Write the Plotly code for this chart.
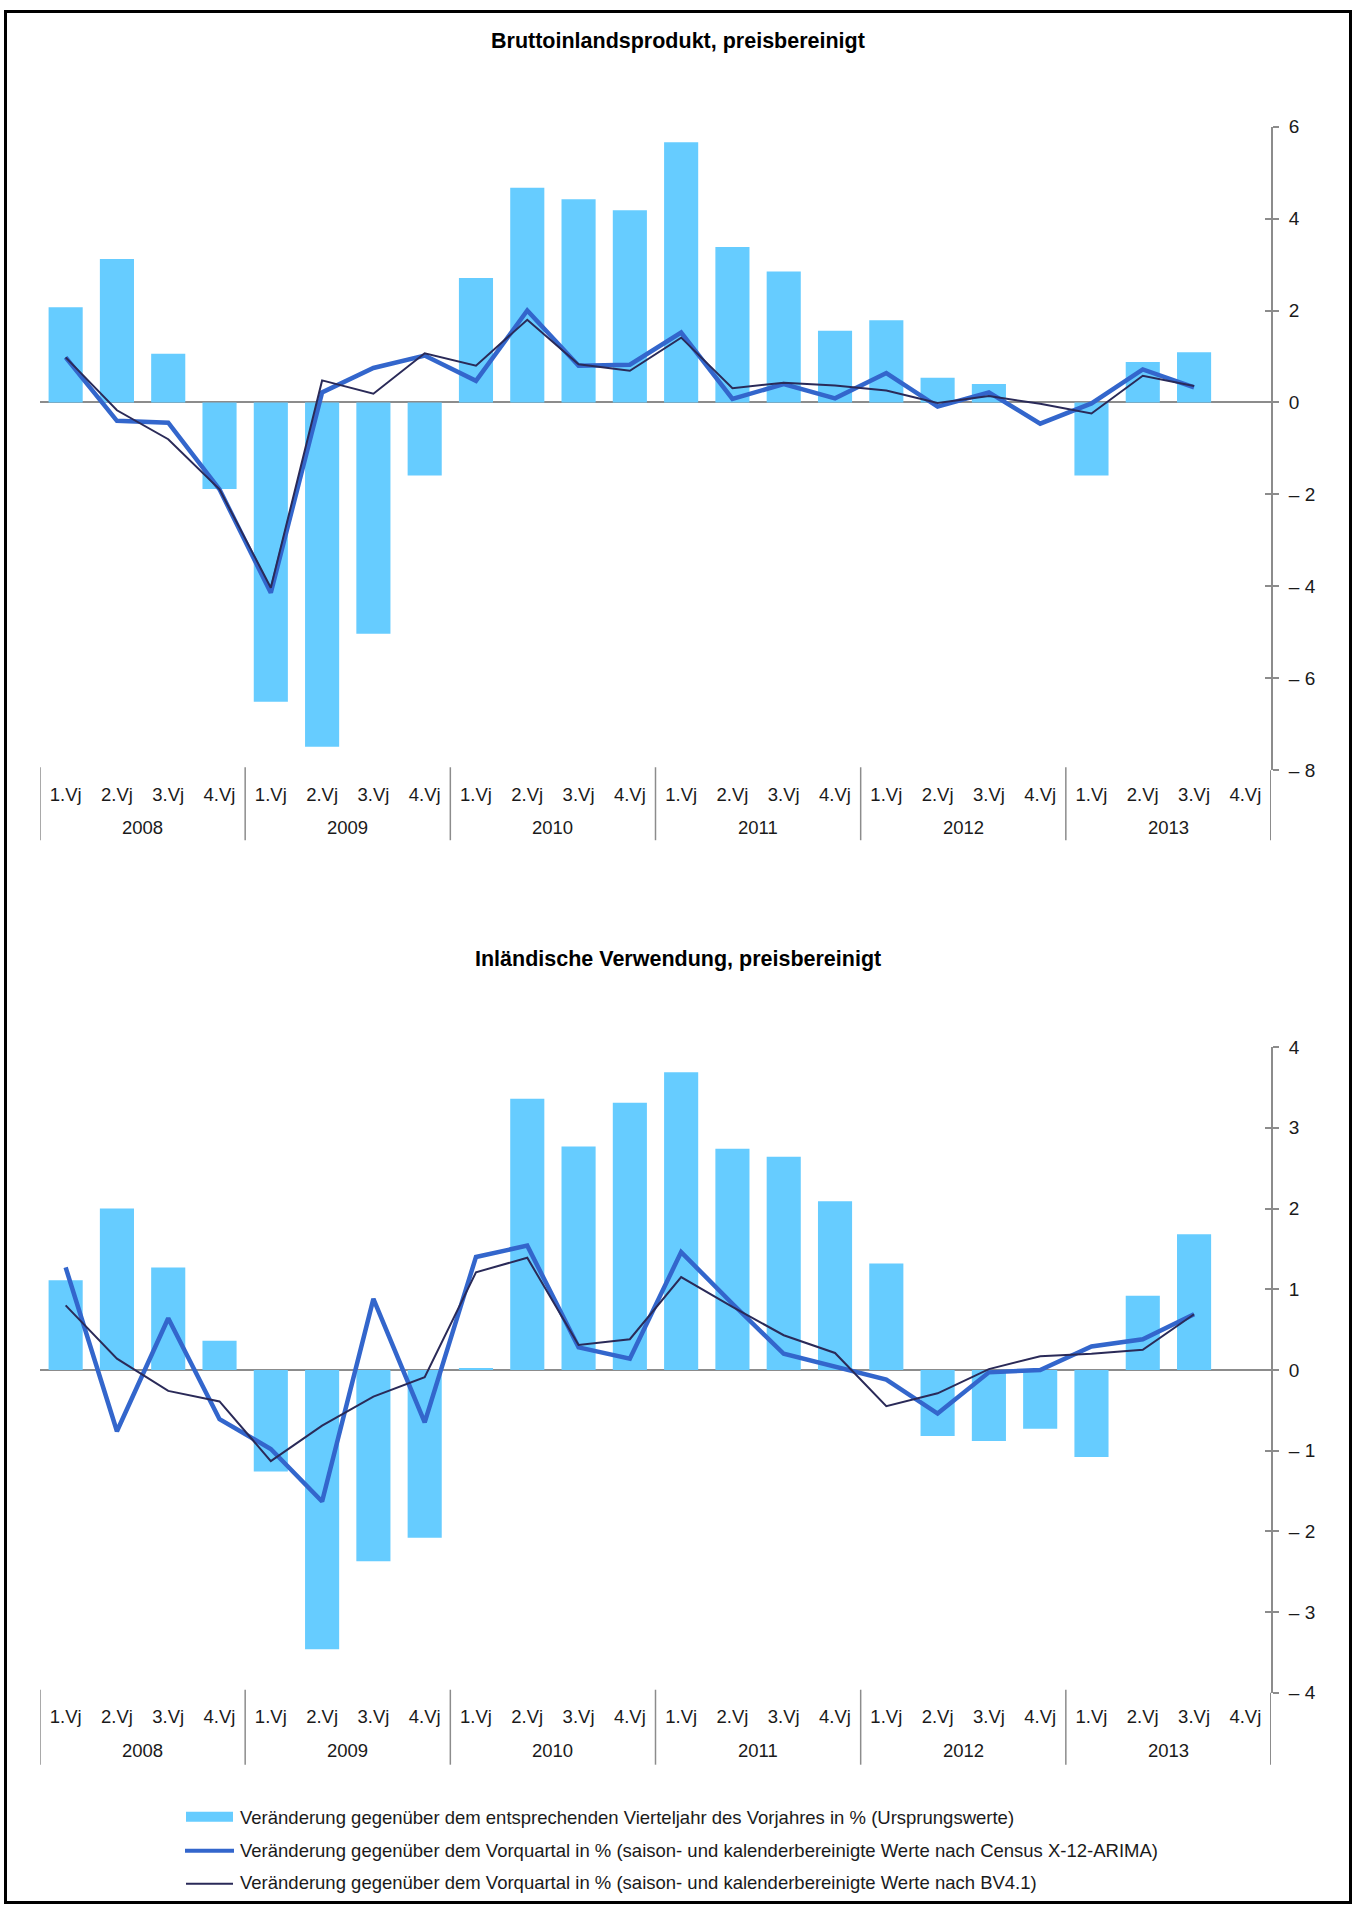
import plotly.graph_objects as go

W, H = 1355, 1915

years = ["2008", "2009", "2010", "2011", "2012", "2013"]
quarters = ["1.Vj", "2.Vj", "3.Vj", "4.Vj"]

# Bruttoinlandsprodukt, preisbereinigt
bip_yoy = [2.07, 3.12, 1.06, -1.88, -6.51, -7.49, -5.03, -1.59, 2.71, 4.67, 4.42, 4.18,
           5.66, 3.38, 2.85, 1.56, 1.79, 0.54, 0.40, 0.0, -1.59, 0.88, 1.09, None]
bip_x12 = [0.98, -0.40, -0.44, -1.89, -4.14, 0.22, 0.75, 1.02, 0.47, 2.00, 0.80, 0.82,
           1.52, 0.08, 0.40, 0.09, 0.64, -0.09, 0.22, -0.46, -0.02, 0.72, 0.33, None]
bip_bv41 = [0.98, -0.17, -0.80, -1.89, -4.03, 0.48, 0.19, 1.07, 0.80, 1.80, 0.83, 0.69,
            1.41, 0.31, 0.43, 0.37, 0.26, -0.01, 0.14, -0.03, -0.24, 0.58, 0.36, None]

# Inländische Verwendung, preisbereinigt
verw_yoy = [1.11, 2.00, 1.27, 0.36, -1.26, -3.46, -2.37, -2.08, 0.02, 3.36, 2.77, 3.31,
            3.69, 2.74, 2.64, 2.09, 1.32, -0.82, -0.88, -0.73, -1.08, 0.92, 1.68, None]
verw_x12 = [1.27, -0.76, 0.64, -0.61, -0.98, -1.63, 0.88, -0.65, 1.40, 1.54, 0.28, 0.14,
            1.46, 0.82, 0.20, 0.04, -0.12, -0.54, -0.03, 0.00, 0.29, 0.38, 0.69, None]
verw_bv41 = [0.80, 0.14, -0.26, -0.39, -1.13, -0.69, -0.33, -0.09, 1.21, 1.39, 0.31, 0.38,
             1.15, 0.78, 0.43, 0.21, -0.45, -0.29, 0.01, 0.17, 0.20, 0.25, 0.69, None]

titles = ["Bruttoinlandsprodukt, preisbereinigt", "Inländische Verwendung, preisbereinigt"]
legend_names = [
    "Veränderung gegenüber dem entsprechenden Vierteljahr des Vorjahres in % (Ursprungswerte)",
    "Veränderung gegenüber dem Vorquartal in % (saison- und kalenderbereinigte Werte nach Census X-12-ARIMA)",
    "Veränderung gegenüber dem Vorquartal in % (saison- und kalenderbereinigte Werte nach BV4.1)",
]
top_ticks = [-8, -6, -4, -2, 0, 2, 4, 6]
bot_ticks = [-4, -3, -2, -1, 0, 1, 2, 3, 4]


def tick_text(v):
    return "– " + str(abs(v)) if v < 0 else str(v)


n = len(years) * len(quarters)
xpos = list(range(n))
xlabels = [q for _ in years for q in quarters]
year_centers = [i * len(quarters) + (len(quarters) - 1) / 2 for i in range(len(years))]
dividers = [i * len(quarters) - 0.5 for i in range(len(years) + 1)]

BAR = "#66CCFF"
BLUE = "#3366CC"
NAVY = "#2A2A58"
GRAY = "#8C8C8C"
TXT = "#1a1a1a"
FONT = "Liberation Sans, Arial, sans-serif"

fig = go.Figure()

for i, (yoy, x12, bv) in enumerate([(bip_yoy, bip_x12, bip_bv41), (verw_yoy, verw_x12, verw_bv41)]):
    xa = "x" if i == 0 else "x2"
    ya = "y" if i == 0 else "y2"
    fig.add_trace(go.Bar(x=xpos, y=yoy, marker=dict(color=BAR, line=dict(width=0)),
                         name=legend_names[0], showlegend=False, xaxis=xa, yaxis=ya))
    fig.add_trace(go.Scatter(x=xpos, y=x12, mode="lines", line=dict(color=BLUE, width=4.5),
                             name=legend_names[1], showlegend=False, xaxis=xa, yaxis=ya))
    fig.add_trace(go.Scatter(x=xpos, y=bv, mode="lines", line=dict(color=NAVY, width=2),
                             name=legend_names[2], showlegend=False, xaxis=xa, yaxis=ya))


def fy(r):
    # target pixel row -> figure pixel row (compensates the capture's vertical mapping)
    return min(max((r - 9.3) / 0.9896, 0.0), H)


def py(r):
    return 1 - fy(r) / H


def pxx(px):
    return px / W


xdom = [pxx(40), pxx(1271)]
top_dom = [py(770), py(126)]
bot_dom = [py(1693), py(1047)]

xcommon = dict(domain=xdom, range=[-0.5, n - 0.5], showgrid=False, zeroline=False, showline=False,
               ticks="", tickvals=xpos, ticktext=xlabels, ticklabelstandoff=11,
               tickfont=dict(family=FONT, size=18.5, color=TXT))
ycommon = dict(side="right", showgrid=False, showline=True, linecolor=GRAY, linewidth=2,
               ticks="outside", ticklen=6, tickwidth=2, tickcolor=GRAY, ticklabelstandoff=6,
               zeroline=True, zerolinecolor=GRAY, zerolinewidth=2,
               tickfont=dict(family=FONT, size=19, color=TXT))

fig.update_layout(
    width=W, height=H, margin=dict(l=0, r=0, t=0, b=0),
    paper_bgcolor="white", plot_bgcolor="white",
    bargap=0.335, showlegend=False,
    font=dict(family=FONT, size=18, color=TXT),
    xaxis=dict(xcommon, anchor="y"),
    yaxis=dict(ycommon, domain=top_dom, anchor="x", range=[-8, 6],
               tickvals=top_ticks, ticktext=[tick_text(v) for v in top_ticks]),
    xaxis2=dict(xcommon, anchor="y2"),
    yaxis2=dict(ycommon, domain=bot_dom, anchor="x2", range=[-4, 4],
                tickvals=bot_ticks, ticktext=[tick_text(v) for v in bot_ticks]),
    yaxis3=dict(domain=top_dom, anchor="x", overlaying="y", side="right", range=[-8, 6],
                tickvals=top_ticks, showticklabels=False, ticks="inside", ticklen=6, tickwidth=2,
                tickcolor=GRAY, showgrid=False, zeroline=False, showline=False),
    yaxis4=dict(domain=bot_dom, anchor="x2", overlaying="y2", side="right", range=[-4, 4],
                tickvals=bot_ticks, showticklabels=False, ticks="inside", ticklen=6, tickwidth=2,
                tickcolor=GRAY, showgrid=False, zeroline=False, showline=False),
)

# invisible traces so the overlay tick axes are drawn
fig.add_trace(go.Scatter(x=xpos, y=[None] * n, xaxis="x", yaxis="y3", showlegend=False, hoverinfo="skip"))
fig.add_trace(go.Scatter(x=xpos, y=[None] * n, xaxis="x2", yaxis="y4", showlegend=False, hoverinfo="skip"))

# year labels and group dividers under each chart
for xa, axis_bottom, year_y, div_bottom in [("x", 767, 827, 840), ("x2", 1690, 1751, 1765)]:
    for yr, xc in zip(years, year_centers):
        fig.add_annotation(text=yr, x=xc, y=py(year_y), xref=xa, yref="paper", showarrow=False,
                           xanchor="center", yanchor="middle",
                           font=dict(family=FONT, size=18.5, color=TXT))
    for k, xd in enumerate(dividers):
        last = k == len(dividers) - 1
        fig.add_shape(type="line", xref=xa, yref="paper", x0=xd, x1=xd,
                      y0=py(axis_bottom if not last else axis_bottom + 3), y1=py(div_bottom),
                      line=dict(color=GRAY, width=2 if last else 1.5))

# titles
for t, ypx in zip(titles, [40, 959]):
    fig.add_annotation(text="<b>" + t + "</b>", x=pxx(678), y=py(ypx), xref="paper", yref="paper",
                       showarrow=False, xanchor="center", yanchor="middle",
                       font=dict(family=FONT, size=21.5, color="#000000"))

# legend (manual)
leg_y = [1818, 1851, 1883]
fig.add_shape(type="rect", xref="paper", yref="paper", x0=pxx(186), x1=pxx(233),
              y0=py(1822), y1=py(1812), fillcolor=BAR, line=dict(width=0))
fig.add_shape(type="line", xref="paper", yref="paper", x0=pxx(185), x1=pxx(234),
              y0=py(1851), y1=py(1851), line=dict(color=BLUE, width=4))
fig.add_shape(type="line", xref="paper", yref="paper", x0=pxx(186), x1=pxx(233),
              y0=py(1884), y1=py(1884), line=dict(color=NAVY, width=2))
for name, ypx in zip(legend_names, leg_y):
    fig.add_annotation(text=name, x=pxx(238), y=py(ypx), xref="paper", yref="paper",
                       showarrow=False, xanchor="left", yanchor="middle",
                       font=dict(family=FONT, size=18.5, color=TXT))

# outer frame
fig.add_shape(type="rect", xref="paper", yref="paper", x0=pxx(5.5), x1=pxx(1350.5),
              y0=1 - 1913.5 / H, y1=1 - 1.5 / H, line=dict(color="black", width=3),
              fillcolor="rgba(0,0,0,0)")

fig.write_html(
    "out.html",
    config={"displayModeBar": False},
    post_script=(
        "document.body.style.margin='0px';document.body.style.padding='0px';"
        "document.documentElement.style.overflow='hidden';"
        "var gd=document.querySelector('.plotly-graph-div');"
        "gd.style.position='fixed';gd.style.top='0px';gd.style.left='0px';"
    ),
)
